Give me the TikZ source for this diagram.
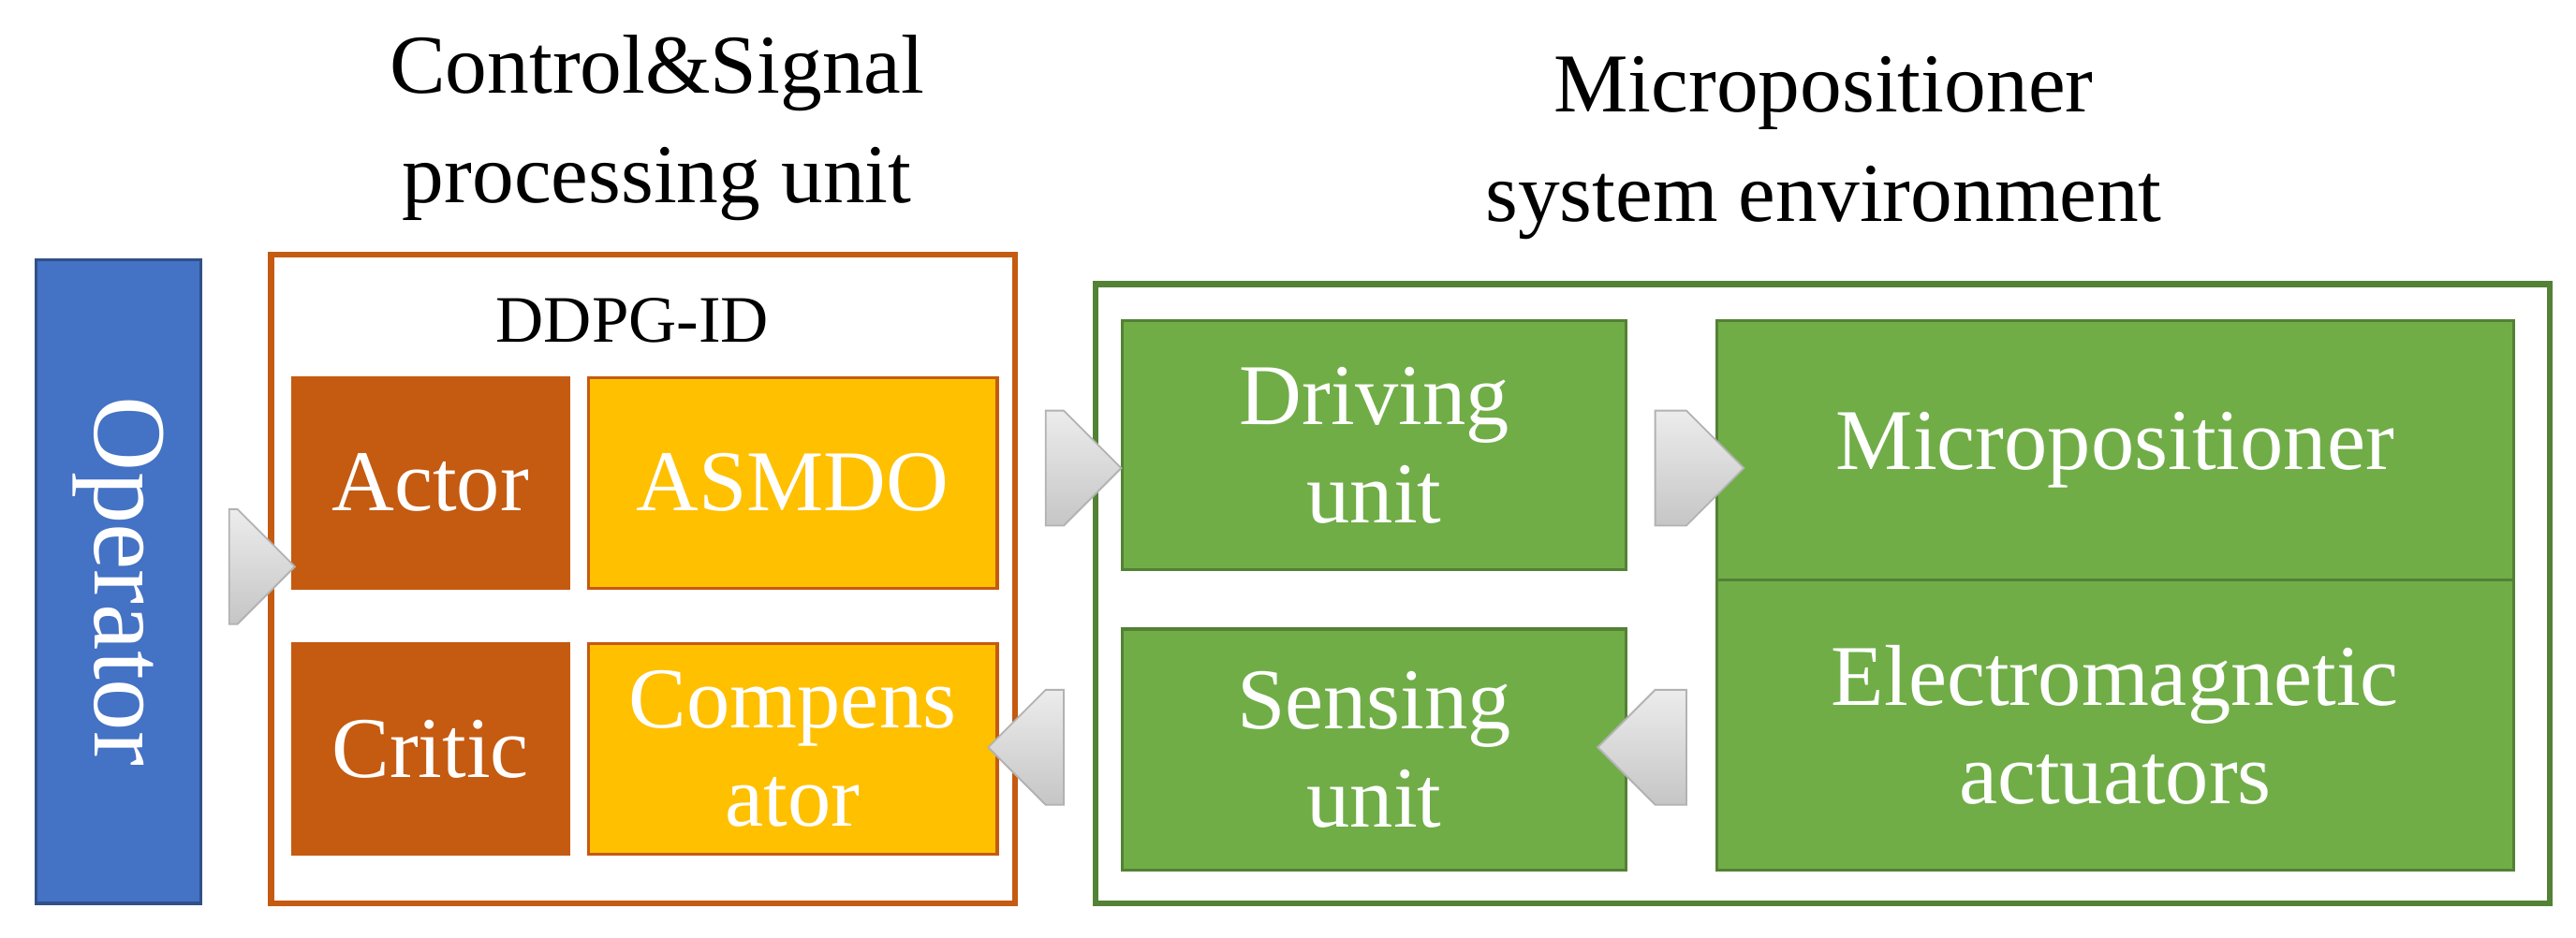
\documentclass[tikz,border=0pt]{standalone}
\usepackage{fontspec}
\setmainfont{Liberation Serif}
\usetikzlibrary{shapes.arrows}
\definecolor{oblue}{HTML}{4472C4}
\definecolor{oorange}{HTML}{C55A11}
\definecolor{oyellow}{HTML}{FFC000}
\definecolor{ogreen}{HTML}{70AD47}
\definecolor{dgreen}{HTML}{538135}
\begin{document}
\begin{tikzpicture}[x=0.02cm,y=-0.02cm,
  box/.style={draw,line width=1pt,inner sep=0pt,text=white,align=center,font=\fontsize{30}{34}\selectfont},
  gar/.style={single arrow,draw=gray!60,top color=gray!15,bottom color=gray!45,shading angle=0,
    minimum height=46*0.02cm,minimum width=70*0.02cm,single arrow head extend=0pt,inner sep=0pt,line width=0.6pt},
  ttl/.style={align=center,font=\fontsize{29}{38}\selectfont}]
\useasboundingbox (0,0) rectangle (1568,571);
\fill[white] (0,0) rectangle (1568,571);
% operator
\node[box,draw=oblue!70!black,fill=oblue,minimum width=100*0.02cm,minimum height=392*0.02cm] (op) at (72,354) {};
\node[text=white,rotate=-90,font=\fontsize{36}{40}\selectfont] (opt) at (op.center) {Operator};
% control unit
\draw[oorange,line width=2pt] (165,155) rectangle (618,550);
\coordinate (cl) at (165,345);
\coordinate (cr) at (618,285);
\coordinate (cr2) at (618,455);
\node[ttl] (t1) at (400,78) {Control\&Signal\\processing unit};
\node[font=\fontsize{23}{26}\selectfont] (dd) at (385,195) {DDPG-ID};
\node[box,draw=oorange,fill=oorange,minimum width=168*0.02cm,minimum height=128*0.02cm] (actor) at (262,294) {Actor};
\node[box,draw=oorange,fill=oyellow,minimum width=249*0.02cm,minimum height=128*0.02cm] (asm) at (482.5,294) {ASMDO};
\node[box,draw=oorange,fill=oorange,minimum width=168*0.02cm,minimum height=128*0.02cm] (critic) at (262,456) {Critic};
\node[box,draw=oorange,fill=oyellow,minimum width=249*0.02cm,minimum height=128*0.02cm] (comp) at (482.5,456) {Compens\\ator};
% environment
\draw[dgreen,line width=2pt] (667,173) rectangle (1552,550);
\node[ttl] (t2) at (1110,90) {Micropositioner\\system environment};
\node[box,draw=dgreen,fill=ogreen,minimum width=307*0.02cm,minimum height=152*0.02cm] (drv) at (836.5,271) {Driving\\unit};
\node[box,draw=dgreen,fill=ogreen,minimum width=307*0.02cm,minimum height=147*0.02cm] (sen) at (836.5,456.5) {Sensing\\unit};
\node[box,draw=dgreen,fill=ogreen,minimum width=485*0.02cm,minimum height=158*0.02cm] (mp) at (1287.5,274) {Micropositioner};
\node[box,draw=dgreen,fill=ogreen,minimum width=485*0.02cm,minimum height=177*0.02cm] (em) at (1287.5,441.5) {Electromagnetic\\actuators};
% arrows
\node[gar,minimum height=40*0.02cm] (a1) at (142,345) {};
\node[gar] (a2) at (642,285) {};
\node[gar,minimum height=54*0.02cm] (a3) at (1017,285) {};
\node[gar,minimum height=54*0.02cm,shape border rotate=180] (a4) at (1017,455) {};
\node[gar,shape border rotate=180] (a5) at (642,455) {};
\end{tikzpicture}
\end{document}
